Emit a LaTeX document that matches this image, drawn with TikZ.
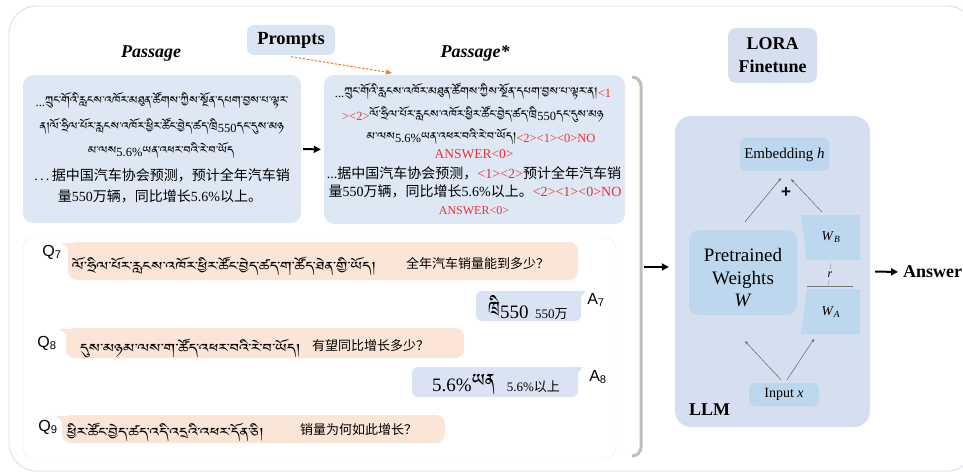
\documentclass[tikz,border=0pt]{standalone}
\usepackage{fontspec}
\usepackage{graphicx}
\setmainfont{Liberation Serif}
\newfontfamily\cjkf{Noto Sans CJK SC}
\newfontfamily\arf{Liberation Sans}
\IfFontExistsTF{Jomolhari}{\newfontfamily\tibf[Script=Tibetan]{Jomolhari}}{%
 \IfFontExistsTF{Tibetan Machine Uni}{\newfontfamily\tibf[Script=Tibetan]{Tibetan Machine Uni}}{%
  \IfFontExistsTF{Microsoft Himalaya}{\newfontfamily\tibf[Script=Tibetan]{Microsoft Himalaya}}{%
   \newfontfamily\tibf{Liberation Serif}}}}
\usetikzlibrary{arrows.meta,calc}
\definecolor{frameC}{HTML}{D3DEF0}
\definecolor{passC}{HTML}{DDE8F4}
\definecolor{promptC}{HTML}{DAE5F2}
\definecolor{llmC}{HTML}{D6DFF0}
\definecolor{innerC}{HTML}{BDD7EE}
\definecolor{qC}{HTML}{FBE5D6}
\definecolor{aC}{HTML}{DAE3F3}
\definecolor{redC}{HTML}{F03030}
\definecolor{orangeC}{HTML}{ED7D31}
\definecolor{brC}{HTML}{BFBFBF}
% Tibetan text: passage size, bubble size, fixed-width piece
\newcommand{\tibp}[1]{\scalebox{1.21}[1]{\tibf\fontsize{13}{13}\selectfont #1}}
\newcommand{\tibq}[1]{\scalebox{1.37}[1]{\tibf\fontsize{15}{15}\selectfont #1}}
\newcommand{\tibw}[2]{\resizebox{#1}{!}{\tibf\fontsize{10}{10}\selectfont #2}}
\newcommand{\zht}[1]{{\cjkf #1}}
\newcommand{\redt}[1]{{\color{redC}#1}}
\begin{document}
\begin{tikzpicture}[x=1pt,y=-1pt,
  pbox/.style={fill=passC,rounded corners=10pt,inner sep=0pt},
  ptxt/.style={inner sep=0pt,font=\rmfamily\fontsize{12.5}{14}\selectfont},
  ctxt/.style={inner sep=0pt,font=\rmfamily\fontsize{14}{16}\selectfont},
  ibox/.style={fill=innerC,rounded corners=6pt,inner sep=0pt},
  qbub/.style={fill=qC,rounded corners=9pt,inner sep=0pt},
  abub/.style={fill=aC,rounded corners=6pt,inner sep=0pt},
  qlbl/.style={inner sep=0pt,font=\arf\fontsize{16}{16}\selectfont},
  btxt/.style={inner sep=0pt,anchor=west,font=\rmfamily\fontsize{13}{14}\selectfont},
  bigarrow/.style={line width=2pt,-{Triangle[length=7pt,width=7pt]}},
  thinarr/.style={draw=black!65,line width=0.45pt,-{Stealth[length=3.5pt,width=2.5pt]}},
  ttl/.style={inner sep=0pt,font=\bfseries\itshape\fontsize{18}{20}\selectfont}]
\useasboundingbox (0,0) rectangle (963,473);
% outer frame
\draw[frameC,line width=0.9pt,rounded corners=28pt] (9,6) rectangle (975,471);

% titles and prompts
\node[ttl] (t1) at (151,54) {Passage};
\node[ttl] (t2) at (475,53) {Passage*};
\node[fill=promptC,rounded corners=7pt,minimum width=88pt,minimum height=30pt,inner sep=0pt,
      font=\bfseries\fontsize{18.5}{20}\selectfont] (prompts) at (291,40) {Prompts};

% passage boxes
\node[pbox,minimum width=278pt,minimum height=148pt] (pass) at (162,149) {};
\node[pbox,minimum width=301pt,minimum height=149pt] (pass2) at (474.5,149.5) {};

\node[ptxt] (a1) at (162,101) {...\tibp{ཀྲུང་གོའི་རླངས་འཁོར་མཐུན་ཚོགས་ཀྱིས་སྔོན་དཔག་བྱས་པ་ལྟར་}};
\node[ptxt] (a2) at (162,126) {\tibp{ན།ལོ་ཧྲིལ་པོར་རླངས་འཁོར་ཕྱིར་ཚོང་བྱེད་ཚད་ཁྲི}550\tibp{དང་དུས་མཉ}};
\node[ptxt] (a3) at (161,150) {\tibp{མ་ལས}5.6\%\tibp{ཡན་འཕར་བའི་རེ་བ་ཡོད}};
\node[ctxt] (a4) at (162,175) {.\,.\,.\,\zht{据中国汽车协会预测，预计全年汽车销}};
\node[ctxt] (a5) at (160,196) {\zht{量}550\zht{万辆，同比增长}5.6\%\zht{以上。}};

\node[ptxt] (b1) at (473,92) {...\tibp{ཀྲུང་གོའི་རླངས་འཁོར་མཐུན་ཚོགས་ཀྱིས་སྔོན་དཔག་བྱས་པ་ལྟར་ན།}\redt{<1}};
\node[ptxt] (b2) at (473,114) {\redt{><2>}\tibp{ལོ་ཧྲིལ་པོར་རླངས་འཁོར་ཕྱིར་ཚོང་བྱེད་ཚད་ཁྲི}550\tibp{དང་དུས་མཉ}};
\node[ptxt] (b3) at (481,136) {\tibp{མ་ལས}5.6\%\tibp{ཡན་འཕར་བའི་རེ་བ་ཡོད།}\redt{<2><1><0>NO}};
\node[ctxt,font=\rmfamily\fontsize{13.5}{14}\selectfont] (b4) at (474,154) {\redt{ANSWER<0>}};
\node[ctxt] (b5) at (474,173) {...\zht{据中国汽车协会预测，}\redt{<1><2>}\zht{预计全年汽车销}};
\node[ctxt] (b6) at (475,191) {\zht{量}550\zht{万辆，同比增长}5.6\%\zht{以上。}\redt{<2><1><0>NO}};
\node[ctxt,font=\rmfamily\fontsize{12}{14}\selectfont] (b7) at (474,211) {\redt{ANSWER<0>}};

\draw[bigarrow,shorten <=2pt,shorten >=3pt] (pass.east) -- (pass2.west);
\coordinate (ptgt) at (392,73);
\draw[orangeC,line width=1pt,dash pattern=on 2.5pt off 1.5pt,-{Triangle[length=6pt,width=5pt]}]
  ($(prompts.south)+(0,1.5)$) -- (ptgt);

% dialogue panel
\node[draw=black!7,fill=white,rounded corners=10pt,minimum width=593pt,minimum height=220pt,inner sep=0pt] (panel) at (319.5,348) {};

\node[qbub,minimum width=510pt,minimum height=38pt] (q7) at (323,261) {};
\fill[qC] ($(q7.north west)+(-6,1)$) -- ($(q7.north west)+(8,1)$) -- ($(q7.north west)+(4,10)$) -- cycle;
\node[abub,minimum width=105pt,minimum height=30pt] (a7) at (528.5,306) {};
\fill[aC] ($(a7.north east)+(5,0)$) -- ($(a7.north east)+(-8,0)$) -- ($(a7.north east)+(-3,9)$) -- cycle;
\node[qbub,minimum width=398pt,minimum height=30pt] (q8) at (265,343) {};
\fill[qC] ($(q8.north west)+(-6,1)$) -- ($(q8.north west)+(8,1)$) -- ($(q8.north west)+(4,10)$) -- cycle;
\node[abub,minimum width=166pt,minimum height=30pt] (a8) at (495,382) {};
\fill[aC] ($(a8.north east)+(5,0)$) -- ($(a8.north east)+(-8,0)$) -- ($(a8.north east)+(-3,9)$) -- cycle;
\node[qbub,minimum width=383pt,minimum height=28pt] (q9) at (253.5,429) {};
\fill[qC] ($(q9.north west)+(-6,1)$) -- ($(q9.north west)+(8,1)$) -- ($(q9.north west)+(4,10)$) -- cycle;

\node[btxt] (q7t) at (72,266) {\tibq{ལོ་ཧྲིལ་པོར་རླངས་འཁོར་ཕྱིར་ཚོང་བྱེད་ཚད་ག་ཚོད་ཐེན་གྱི་ཡོད།}};
\node[btxt] (q7c) at (406,264) {\zht{全年汽车销量能到多少？}};
\node[btxt] (q8t) at (80,348) {\tibq{དུས་མཉམ་ལས་ག་ཚོད་འཕར་བའི་རེ་བ་ཡོད།}};
\node[btxt] (q8c) at (312,346) {\zht{有望同比增长多少？}};
\node[btxt] (q9t) at (67,432) {\tibq{ཕྱིར་ཚོང་བྱེད་ཚད་འདི་འདྲའི་འཕར་དོན་ཅི།}};
\node[btxt] (q9c) at (300,430) {\zht{销量为何如此增长？}};
\node[btxt,font=\rmfamily\fontsize{19}{19}\selectfont] (a7t) at (488,308)
  {\tibw{12pt}{ཁྲི}550\hspace{6.5pt}{\fontsize{13}{13}\selectfont 550\zht{万}}};
\node[btxt,font=\rmfamily\fontsize{19}{19}\selectfont] (a8t) at (432,385)
  {5.6\%\tibw{23pt}{ཡན}\hspace{12pt}{\fontsize{13}{13}\selectfont 5.6\%\zht{以上}}};

\node[qlbl] (q7l) at (52,252) {Q\textsubscript{7}};
\node[qlbl] (q8l) at (47,343) {Q\textsubscript{8}};
\node[qlbl] (q9l) at (48,427) {Q\textsubscript{9}};
\node[qlbl] (a7l) at (596,300) {A\textsubscript{7}};
\node[qlbl] (a8l) at (598,377) {A\textsubscript{8}};

% bracket
\draw[brC,line width=3pt,rounded corners=9pt] (632,77) -- (641,77) -- (641,456) -- (632,456);
\coordinate (brk) at (644,267);

% LORA + LLM
\node[fill=llmC,rounded corners=8pt,minimum width=89pt,minimum height=55pt,inner sep=0pt,align=center,
      font=\bfseries\fontsize{18}{23}\selectfont] (lora) at (772.5,55.5) {LORA\\Finetune};
\node[fill=llmC,rounded corners=16pt,minimum width=195pt,minimum height=311pt,inner sep=0pt] (llm) at (772.5,271.5) {};

\node[ibox,minimum width=89pt,minimum height=33pt,font=\rmfamily\fontsize{15}{17}\selectfont] (emb) at (784.5,154.5) {Embedding \textit{h}};
\node[ibox,minimum width=108pt,minimum height=85pt,rounded corners=10pt] (pw) at (743,272.5) {};
\node[inner sep=0pt,align=center,font=\rmfamily\fontsize{19}{22.5}\selectfont] (pwt) at (743,278) {Pretrained\\Weights\\\textit{W}};

\fill[innerC] (801,215) -- (860,215) -- (860,260) -- (807,260) -- cycle;
\fill[innerC] (807,289) -- (860,289) -- (860,334) -- (801,334) -- cycle;
\coordinate (wbtop) at (830.5,215);
\coordinate (wabot) at (830.5,334);
\node[inner sep=0pt,font=\rmfamily\fontsize{13.5}{14}\selectfont] (wbl) at (831,237) {\textit{W}\textsubscript{\textit{B}}};
\node[inner sep=0pt,font=\rmfamily\fontsize{13.5}{14}\selectfont] (wal) at (831,312) {\textit{W}\textsubscript{\textit{A}}};
\draw[black!55,line width=0.5pt] (807,286) -- (853,286);
\node[inner sep=0pt,font=\rmfamily\fontsize{12}{12}\selectfont] (rl) at (830,275) {\textit{r}};
\draw[black!45,line width=0.4pt] (831,263) -- (830.6,269);
\draw[black!45,line width=0.4pt] (829,280) -- (828.4,285);
\node[inner sep=0pt,font=\arf\bfseries\fontsize{17}{17}\selectfont] (plus) at (786,193) {+};

\node[ibox,minimum width=70pt,minimum height=23pt,font=\rmfamily\fontsize{14}{16}\selectfont] (inp) at (784,394.5) {Input \textit{x}};
\node[inner sep=0pt,anchor=west,font=\bfseries\fontsize{18}{20}\selectfont] (llml) at (689,410) {LLM};

\draw[thinarr] ($(pw.north)+(2,-8)$) -- ($(emb.south)+(-3.5,7)$);
\draw[thinarr] ($(wbtop)+(-8.5,-3)$) -- ($(emb.south)+(6.5,8)$);
\draw[thinarr] ($(inp.north)+(-3,-3)$) -- ($(pw.south)+(2,26)$);
\draw[thinarr] ($(inp.north)+(3,-3)$) -- ($(wabot)+(-16.5,5)$);

\draw[bigarrow,shorten >=6pt] (brk) -- (llm.west |- brk);
\node[inner sep=0pt,anchor=west,font=\bfseries\fontsize{18}{20}\selectfont] (ans) at (903,272) {Answer};
\draw[bigarrow,shorten <=5pt,shorten >=5pt] (llm.east) -- (ans.west);
\end{tikzpicture}
\end{document}
